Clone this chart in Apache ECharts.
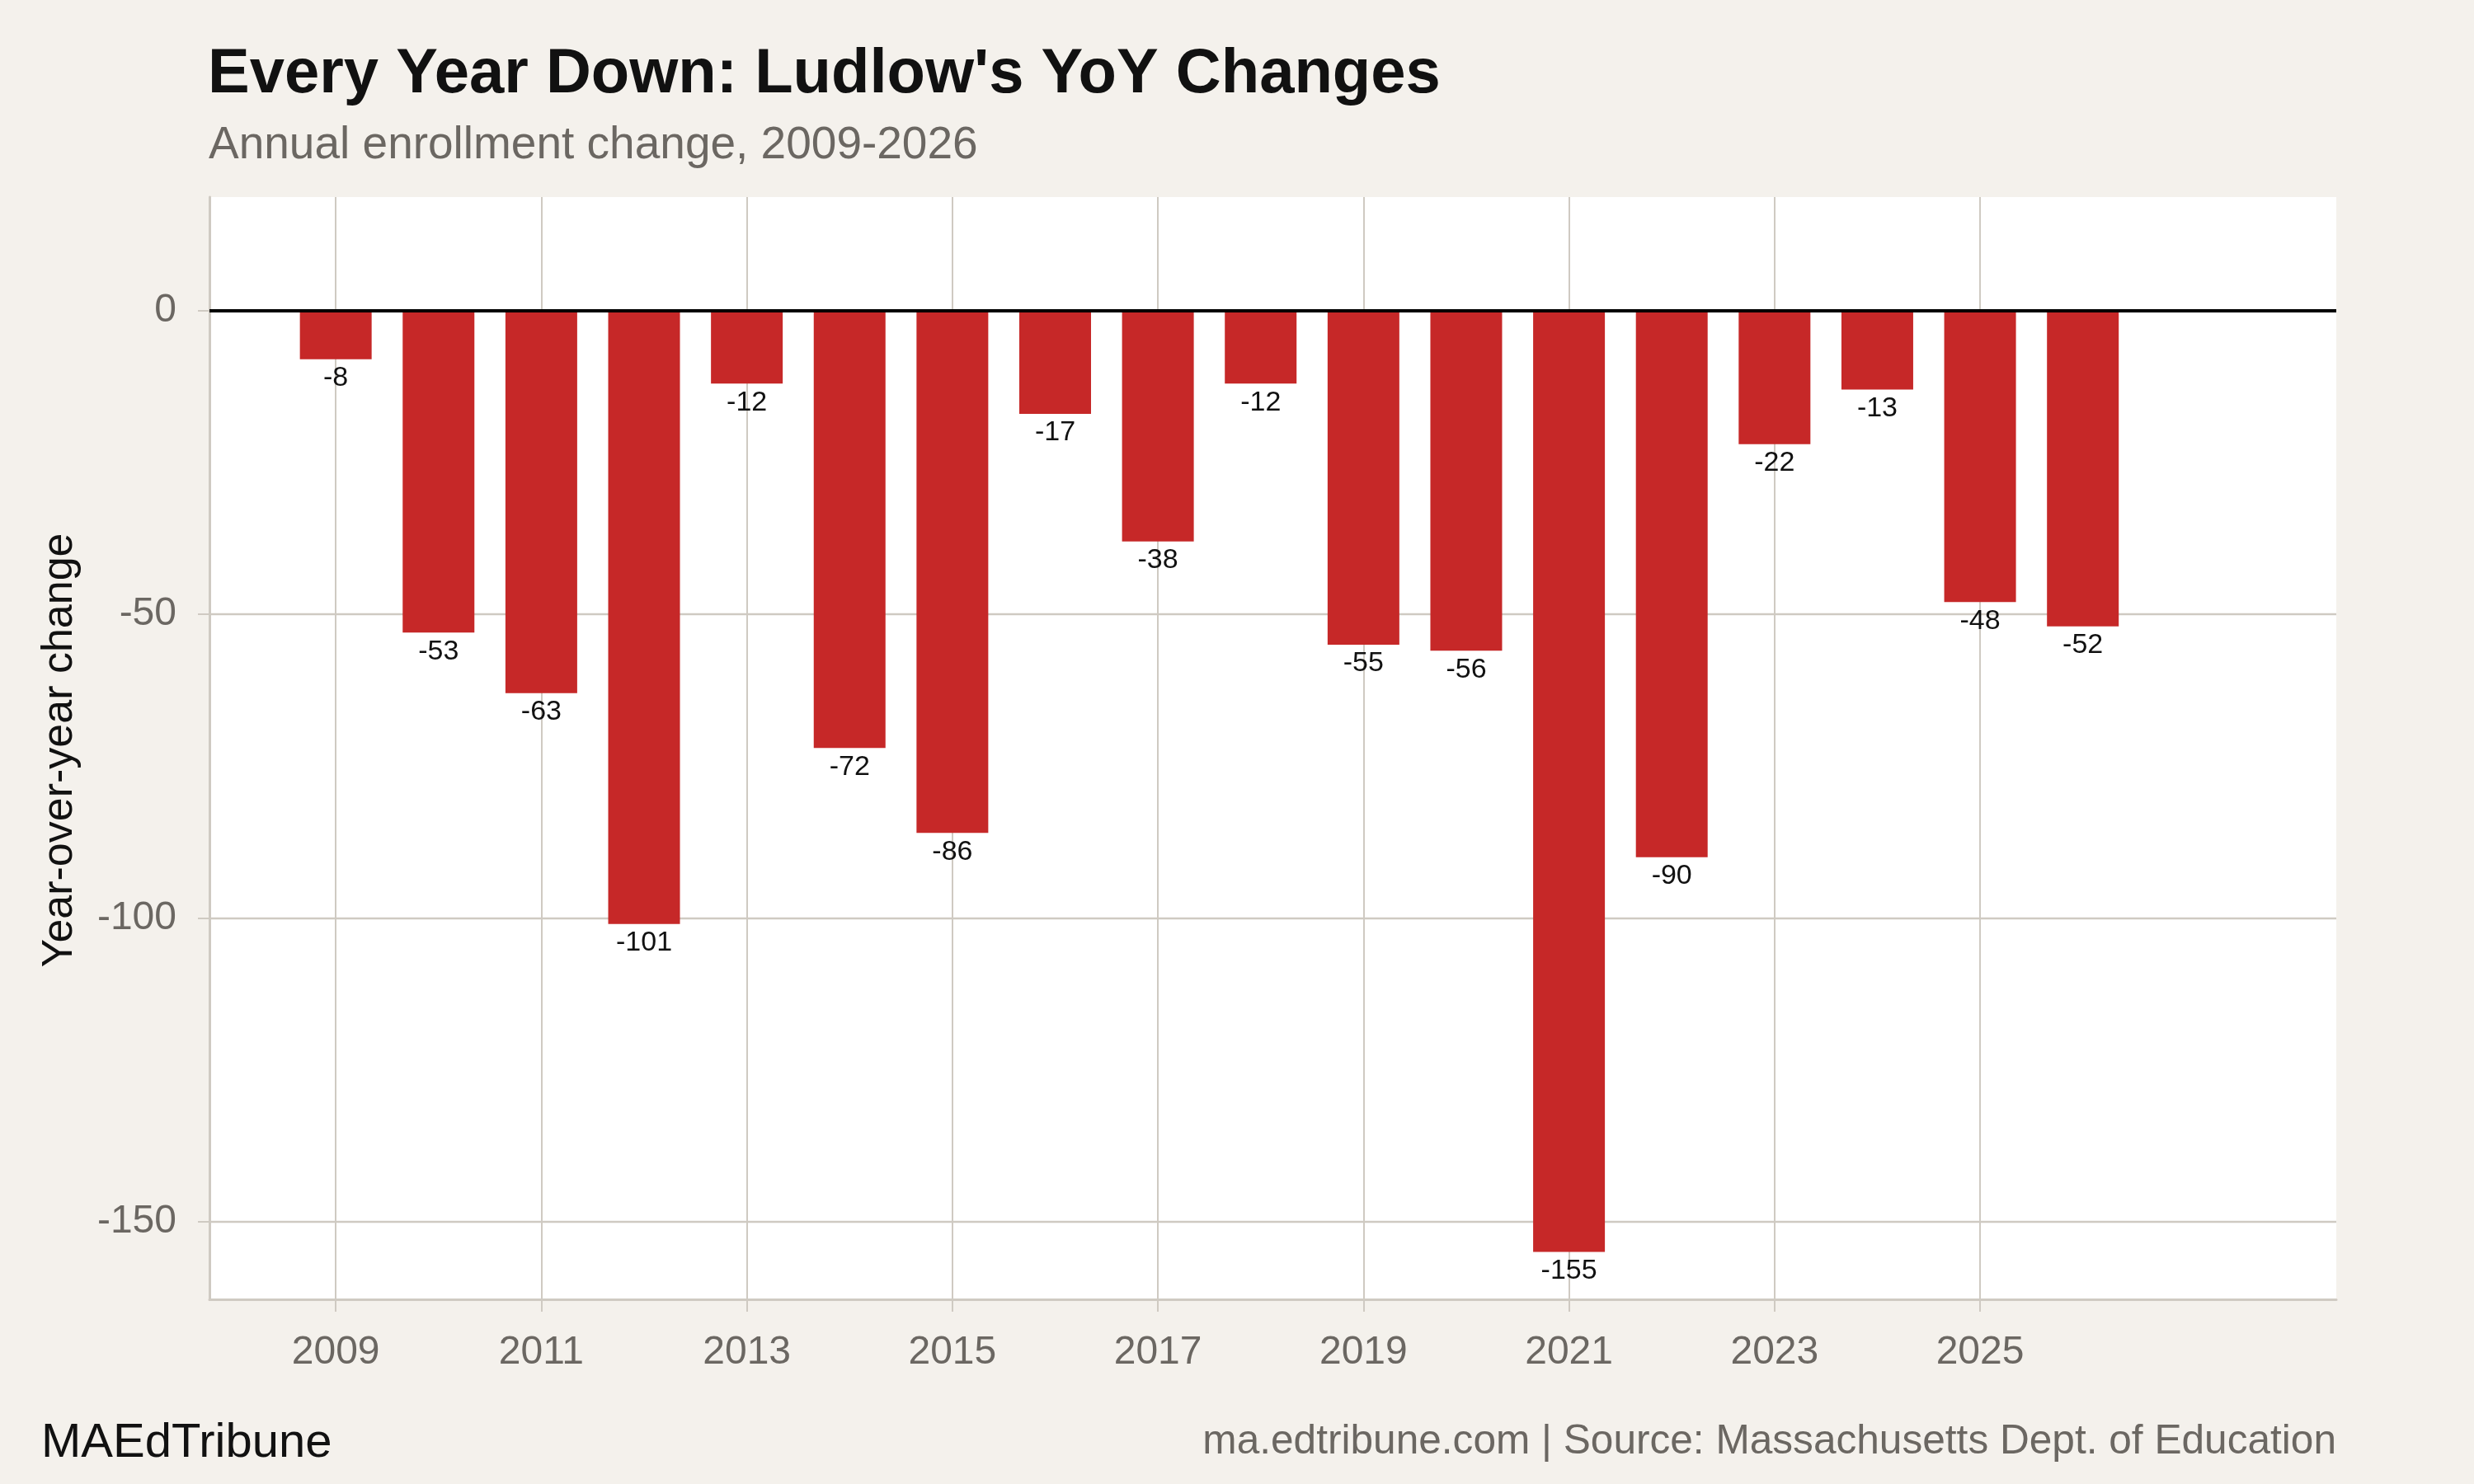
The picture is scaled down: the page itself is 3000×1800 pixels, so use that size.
<!DOCTYPE html>
<html>
<head>
<meta charset="utf-8">
<script src="https://cdn.jsdelivr.net/npm/echarts@6/dist/echarts.min.js"></script>
<style>
html,body{margin:0;padding:0;background:#f4f1ec;}
#chart{width:3000px;height:1800px;}
</style>
</head>
<body>
<div id="chart"></div>
<script>
var years = [2009,2010,2011,2012,2013,2014,2015,2016,2017,2018,2019,2020,2021,2022,2023,2024,2025,2026];
var changes = [-8,-53,-63,-101,-12,-72,-86,-17,-38,-12,-55,-56,-155,-90,-22,-13,-48,-52];
var xTickYears = [2009,2011,2013,2015,2017,2019,2021,2023,2025];
var yTicks = [-150,-100,-50,0];

var FONT = '"Liberation Sans", Arial, Helvetica, sans-serif';
var GRID_COLOR = '#cfcac2';
var TEXT_GRAY = '#6b6762';

var barData = years.map(function (y, i) { return [y, changes[i]]; });

var chart = echarts.init(document.getElementById('chart'));
chart.setOption({
  animation: false,
  backgroundColor: '#f4f1ec',
  textStyle: { fontFamily: FONT },
  grid: {
    left: 254, right: 167, top: 239, bottom: 224,
    show: true, backgroundColor: '#ffffff', borderWidth: 0,
    containLabel: false
  },
  graphic: [
    { type: 'text', left: 252, top: 53, style: { text: "Every Year Down: Ludlow's YoY Changes", font: 'bold 76px ' + FONT, fill: '#111111' } },
    { type: 'text', left: 253, top: 149, style: { text: 'Annual enrollment change, 2009-2026', font: '55px ' + FONT, fill: TEXT_GRAY } },
    { type: 'text', left: 50, top: 1722, style: { text: 'MAEdTribune', font: '58px ' + FONT, fill: '#111111' } },
    { type: 'text', right: 167, top: 1724, style: { text: 'ma.edtribune.com | Source: Massachusetts Dept. of Education', font: '49.6px ' + FONT, fill: TEXT_GRAY } },
    { type: 'text', x: 73, y: 910, rotation: Math.PI / 2, style: { text: 'Year-over-year change', font: '52px ' + FONT, fill: '#111111', align: 'center', verticalAlign: 'middle' } }
  ],
  xAxis: {
    type: 'value',
    min: 2007.771,
    max: 2028.466,
    axisLine: { show: true, onZero: false, lineStyle: { color: GRID_COLOR, width: 3 } },
    axisTick: { show: true, customValues: xTickYears, length: 15, lineStyle: { color: GRID_COLOR, width: 2 } },
    axisLabel: { customValues: xTickYears, color: TEXT_GRAY, fontSize: 48, margin: 41, fontFamily: FONT, formatter: function (v) { return String(v); } },
    splitLine: { show: true, lineStyle: { color: GRID_COLOR, width: 2 } }
  },
  yAxis: {
    type: 'value',
    min: -162.8,
    max: 18.7,
    axisLine: { show: true, lineStyle: { color: GRID_COLOR, width: 3 } },
    axisTick: { show: true, customValues: yTicks, length: 14, lineStyle: { color: GRID_COLOR, width: 2 } },
    axisLabel: { customValues: yTicks, color: TEXT_GRAY, fontSize: 48, margin: 40, fontFamily: FONT },
    splitLine: { show: true, lineStyle: { color: GRID_COLOR, width: 2.3 } }
  },
  series: [{
    type: 'bar',
    data: barData,
    barWidth: 87,
    itemStyle: { color: '#c62828' },
    label: {
      show: true,
      position: 'bottom',
      distance: 6,
      color: '#111111',
      fontSize: 34,
      fontFamily: FONT,
      formatter: function (p) { return String(p.value[1]); }
    },
    markLine: {
      silent: true,
      symbol: ['none', 'none'],
      label: { show: false },
      lineStyle: { color: '#000000', width: 4, type: 'solid' },
      data: [{ yAxis: 0 }]
    }
  }]
});
</script>
</body>
</html>
